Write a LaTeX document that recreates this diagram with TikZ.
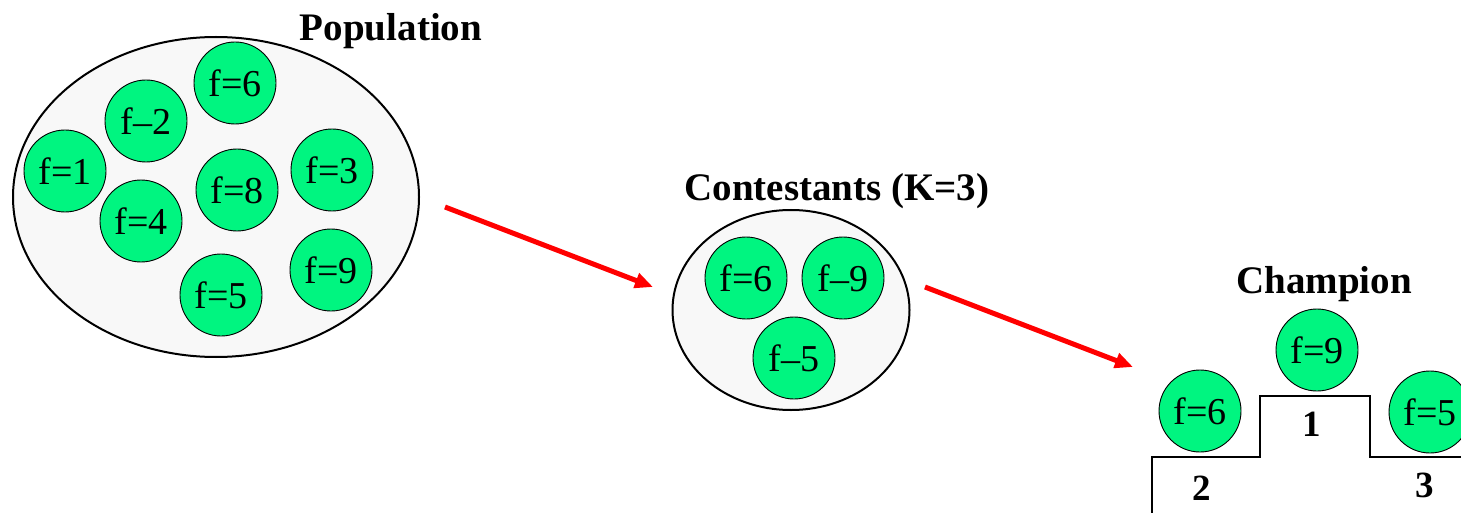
\documentclass[tikz,border=0pt]{standalone}
\usepackage{fontspec}
\setmainfont{Liberation Serif}
\usepackage{tikz}
\usetikzlibrary{arrows.meta,shapes.geometric}
\definecolor{fgreen}{RGB}{0,245,128}
\definecolor{poolgray}{RGB}{248,248,248}
\definecolor{selred}{RGB}{255,0,0}
\tikzset{
  % one individual of the population, with its fitness
  indiv/.style = {circle, draw=black, fill=fgreen, line width=0.9pt, inner sep=0pt,
                  minimum size=82pt, font=\fontsize{38}{40}\selectfont},
  % the pool that holds individuals
  pool/.style  = {ellipse, draw=black, fill=poolgray, line width=2pt, inner sep=0pt},
  % heading over each stage
  stitle/.style = {font=\fontsize{39}{42}\selectfont\bfseries},
  % place number on the podium
  place/.style  = {font=\fontsize{37}{40}\selectfont\bfseries},
  % the selection arrow
  selarrow/.style = {draw=selred, line width=5pt,
                     -{Triangle[length=18pt,width=15pt]}},
  % podium outline
  podium/.style = {line width=2.6pt, line join=miter},
}

\begin{document}
\begin{tikzpicture}[x=1pt,y=-1pt]
  \useasboundingbox (0,0) rectangle (1461,513);

  % population
  \node[pool, minimum width=406pt, minimum height=320pt] (pop) at (216,197) {};
  \node[stitle] (poptitle) at (391,31) {Population};
  \node[indiv] (p6) at (235,83)  {f=6};
  \node[indiv] (p2) at (146,121) {f–2};
  \node[indiv] (p1) at (65,171)  {f=1};
  \node[indiv] (p4) at (141,221) {f=4};
  \node[indiv] (p8) at (237,190) {f=8};
  \node[indiv] (p3) at (332,170) {f=3};
  \node[indiv] (p9) at (331,270) {f=9};
  \node[indiv] (p5) at (221,295) {f=5};

  % contestants drawn from it
  \node[pool, minimum width=237pt, minimum height=200pt] (cont) at (791,310) {};
  \node[stitle] (conttitle) at (837,191) {Contestants (K=3)};
  \node[indiv] (c6) at (746,278) {f=6};
  \node[indiv] (c9) at (843,278) {f–9};
  \node[indiv] (c5) at (794,358) {f–5};

  % champion on the podium
  \node[stitle] (champtitle) at (1324,284) {Champion};
  \draw[podium] (1152,513) -- (1152,457) -- (1260,457) -- (1260,396)
    -- (1370,396) -- (1370,457) -- (1461,457);
  \node[indiv] (w9) at (1317,350) {f=9};
  \node[indiv] (w6) at (1200,411) {f=6};
  \node[indiv] (w5) at (1430,412) {f=5};
  \node[place] (first)  at (1312,424) {1};
  \node[place] (second) at (1202,488) {2};
  \node[place] (third)  at (1425,485) {3};

  % selection steps
  \coordinate (s1) at (445,207);
  \coordinate (t1) at (653,287);
  \coordinate (s2) at (925,287);
  \coordinate (t2) at (1133,367);
  \draw[selarrow] (s1) -- (t1);
  \draw[selarrow] (s2) -- (t2);
\end{tikzpicture}
\end{document}
